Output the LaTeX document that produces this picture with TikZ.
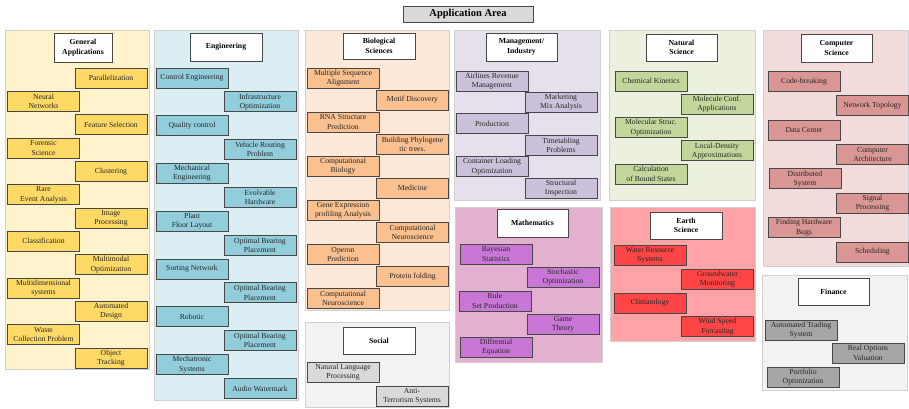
\documentclass[tikz,border=0pt]{standalone}
\usepackage{fontspec}
\setmainfont{Liberation Serif}
\begin{document}
\begin{tikzpicture}[x=1pt,y=-1pt,
  panel/.style={draw=black!18,line width=0.6pt},
  itembox/.style={draw=black!72,line width=1pt,rectangle,inner sep=0pt,align=center,
    minimum width=72pt,minimum height=20pt,text=black!85,
    font=\fontsize{7.7}{9.3}\selectfont},
  headbox/.style={draw=black!72,line width=1pt,fill=white,rectangle,inner sep=0pt,align=center,
    minimum width=72pt,minimum height=28pt,
    font=\fontsize{7.7}{9.6}\selectfont\bfseries},
  gen/.style={itembox,fill=genbox},
  eng/.style={itembox,fill=engbox},
  bio/.style={itembox,fill=biobox},
  soc/.style={itembox,fill=socbox},
  man/.style={itembox,fill=manbox},
  mat/.style={itembox,fill=matbox},
  nat/.style={itembox,fill=natbox},
  ear/.style={itembox,fill=earbox},
  com/.style={itembox,fill=combox},
  fin/.style={itembox,fill=finbox}]
\definecolor{genbg}{HTML}{FFF2CC}\definecolor{genbox}{HTML}{FFD966}
\definecolor{engbg}{HTML}{DAEEF3}\definecolor{engbox}{HTML}{92CDDC}
\definecolor{biobg}{HTML}{FDE9D9}\definecolor{biobox}{HTML}{FAC090}
\definecolor{socbg}{HTML}{F2F2F2}\definecolor{socbox}{HTML}{D9D9D9}
\definecolor{manbg}{HTML}{E5E0EC}\definecolor{manbox}{HTML}{CCC1DA}
\definecolor{matbg}{HTML}{E3B0D0}\definecolor{matbox}{HTML}{C977D6}
\definecolor{natbg}{HTML}{EBF1DE}\definecolor{natbox}{HTML}{C3D69B}
\definecolor{earbg}{HTML}{FFA3A6}\definecolor{earbox}{HTML}{FF4545}
\definecolor{combg}{HTML}{F2DCDB}\definecolor{combox}{HTML}{D99694}
\definecolor{finbg}{HTML}{F2F2F2}\definecolor{finbox}{HTML}{A6A6A6}
\useasboundingbox (0,0) rectangle (909,408);
\fill[white] (0,0) rectangle (909,408);

% title
\node[draw=black!72,line width=1pt,fill=black!15,inner sep=0pt,minimum width=130pt,
  minimum height=16pt,font=\fontsize{10.5}{12}\selectfont\bfseries] (title) at (468,14) {Application Area};

% panels
\filldraw[panel,fill=genbg] (5,30) rectangle (149,369);
\filldraw[panel,fill=engbg] (154,30) rectangle (298,400);
\filldraw[panel,fill=biobg] (305,30) rectangle (449,310);
\filldraw[panel,fill=socbg] (305,322) rectangle (449,407);
\filldraw[panel,fill=manbg] (454,30) rectangle (600,200);
\filldraw[panel,fill=matbg] (455,207) rectangle (602,362);
\filldraw[panel,fill=natbg] (609,30) rectangle (755,200);
\filldraw[panel,fill=earbg] (610,207) rectangle (755,341);
\filldraw[panel,fill=combg] (763,30) rectangle (908,266);
\filldraw[panel,fill=finbg] (762,275) rectangle (907,390);

% General Applications
\node[headbox,minimum width=58pt,minimum height=29pt] (hgen) at (83,47.5) {General\\Applications};
\node[gen] (g1) at (111,78) {Parallelization};
\node[gen] (g2) at (43.5,101.3) {Neural\\Networks};
\node[gen] (g3) at (111,124.7) {Feature Selection};
\node[gen] (g4) at (43.5,148) {Forensic\\Science};
\node[gen] (g5) at (111,171.3) {Clustering};
\node[gen] (g6) at (43.5,194.7) {Rare\\Event Analysis};
\node[gen] (g7) at (111,218) {Image\\Processing};
\node[gen] (g8) at (43.5,241.3) {Classification};
\node[gen] (g9) at (111,264.7) {Multimodal\\Optimization};
\node[gen] (g10) at (43.5,288) {Multidimensional\\systems};
\node[gen] (g11) at (111,311.3) {Automated\\Design};
\node[gen] (g12) at (43.5,334.7) {Waste\\Collection Problem};
\node[gen] (g13) at (111,358) {Object\\Tracking};

% Engineering
\node[headbox] (heng) at (226,47) {Engineering};
\node[eng] (e1) at (192,78) {Control Engineering};
\node[eng] (e2) at (260,101.9) {Infrastructure\\Optimization};
\node[eng] (e3) at (192,125.8) {Quality control};
\node[eng] (e4) at (260,149.6) {Vehicle Routing\\Problem};
\node[eng] (e5) at (192,173.5) {Mechanical\\Engineering};
\node[eng] (e6) at (260,197.4) {Evolvable\\Hardware};
\node[eng] (e7) at (192,221.3) {Plant\\Floor Layout};
\node[eng] (e8) at (260,245.2) {Optimal Bearing\\Placement};
\node[eng] (e9) at (192,269) {Sorting Network};
\node[eng] (e10) at (260,292.9) {Optimal Bearing\\Placement};
\node[eng] (e11) at (192,316.8) {Robotic};
\node[eng] (e12) at (260,340.7) {Optimal Bearing\\Placement};
\node[eng] (e13) at (192,364.6) {Mechatronic\\Systems};
\node[eng] (e14) at (260,388.4) {Audio Watermark};

% Biological Sciences
\node[headbox,minimum height=26pt] (hbio) at (379,46) {Biological\\Sciences};
\node[bio] (b1) at (343,78) {Multiple Sequence\\Alignment};
\node[bio] (b2) at (412.5,100) {Motif Discovery};
\node[bio] (b3) at (343,122.1) {RNA Structure\\Prediction};
\node[bio] (b4) at (412.5,144.2) {Building Phylogene\\tic trees.};
\node[bio] (b5) at (343,166.2) {Computational\\Biology};
\node[bio] (b6) at (412.5,188.3) {Medicine};
\node[bio] (b7) at (343,210.3) {Gene Expression\\profiling Analysis};
\node[bio] (b8) at (412.5,232.4) {Computational\\Neuroscience};
\node[bio] (b9) at (343,254.4) {Operon\\Prediction};
\node[bio] (b10) at (412.5,276.5) {Protein folding};
\node[bio] (b11) at (343,298.5) {Computational\\Neuroscience};

% Social
\node[headbox,minimum height=27pt] (hsoc) at (379,340.5) {Social};
\node[soc] (s1) at (343,372) {Natural Language\\Processing};
\node[soc] (s2) at (412,396) {Anti-\\Terrorism Systems};

% Management / Industry
\node[headbox,minimum width=71pt] (hman) at (521.5,47) {Management/\\Industry};
\node[man] (m1) at (492,81) {Airlines Revenue\\Management};
\node[man] (m2) at (561,102.4) {Marketing\\Mix Analysis};
\node[man] (m3) at (492,123.8) {Production};
\node[man] (m4) at (561,145.2) {Timetabling\\Problems};
\node[man] (m5) at (492,166.6) {Container Loading\\Optimization};
\node[man] (m6) at (561,188) {Structural\\Inspection};

% Mathematics
\node[headbox,minimum width=71pt] (hmat) at (532.5,223) {Mathematics};
\node[mat] (a1) at (496,254) {Bayesian\\Statistics};
\node[mat] (a2) at (563,277) {Stochastic\\Optimization};
\node[mat] (a3) at (495,301) {Rule\\Set Production};
\node[mat] (a4) at (563,324) {Game\\Theory};
\node[mat] (a5) at (496,347) {Diffrential\\Equation};

% Natural Science
\node[headbox,minimum width=71pt,minimum height=27pt] (hnat) at (681.5,47.5) {Natural\\Science};
\node[nat] (n1) at (651,81) {Chemical Kinetics};
\node[nat] (n2) at (717,104.3) {Molecule Conf.\\Applications};
\node[nat] (n3) at (651,127.5) {Molecular Struc.\\Optimization};
\node[nat] (n4) at (717,150.8) {Local-Density\\Approximations};
\node[nat] (n5) at (651,174) {Calculation\\of Bound States};

% Earth Science
\node[headbox,minimum height=27pt] (hear) at (686,225.5) {Earth\\Science};
\node[ear] (r1) at (650,255) {Water Resource\\Systems};
\node[ear] (r2) at (717.5,279.5) {Groundwater\\Monitoring};
\node[ear] (r3) at (650,303) {Climatology};
\node[ear] (r4) at (717.5,326.5) {Wind Speed\\Forcasting};

% Computer Science
\node[headbox,minimum width=71pt] (hcom) at (836.5,48) {Computer\\Science};
\node[com] (c1) at (804,81.5) {Code-breaking};
\node[com] (c2) at (872.5,105.9) {Network Topology};
\node[com] (c3) at (804,130.2) {Data Center};
\node[com] (c4) at (872.5,154.6) {Computer\\Architecture};
\node[com] (c5) at (805,178.9) {Distributed\\System};
\node[com] (c6) at (872.5,203.3) {Signal\\Processing};
\node[com] (c7) at (804,227.7) {Finding Hardware\\Bugs};
\node[com] (c8) at (872.5,252) {Scheduling};

% Finance
\node[headbox,minimum width=71pt,minimum height=27pt] (hfin) at (833.5,291.5) {Finance};
\node[fin] (f1) at (801,330) {Automated Trading\\System};
\node[fin] (f2) at (868,353) {Real Options\\Valuation};
\node[fin] (f3) at (803,377) {Portfolio\\Optimization};
\end{tikzpicture}
\end{document}
